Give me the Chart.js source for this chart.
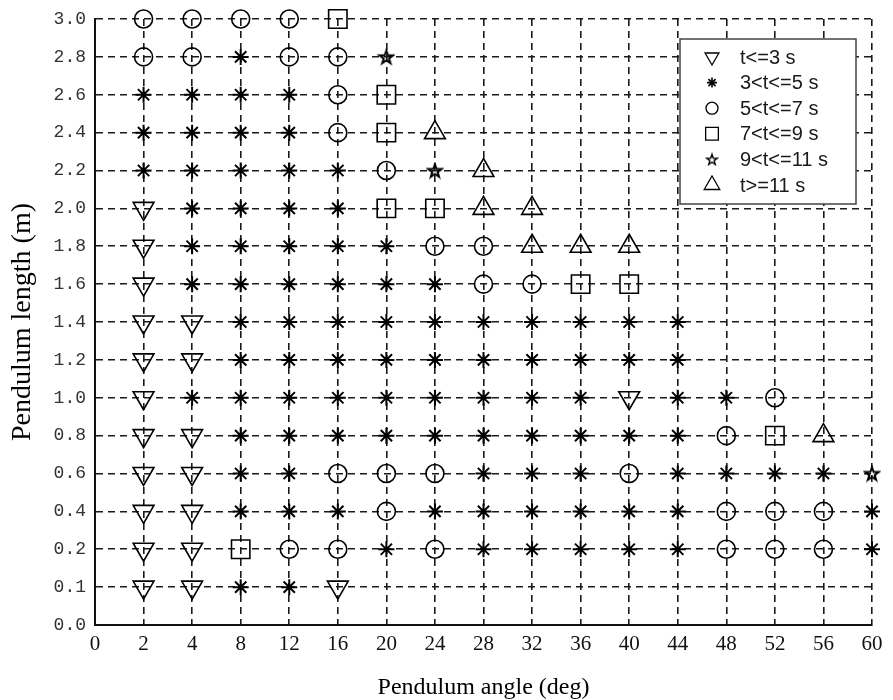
<!DOCTYPE html>
<html>
<head>
<meta charset="utf-8">
<script src="https://cdn.jsdelivr.net/npm/chart.js@4.4.1/dist/chart.umd.min.js"></script>
<style>
  html, body { margin: 0; padding: 0; background: #fff; }
  #wrap { width: 893px; height: 700px; position: relative; }
</style>
</head>
<body>
<div id="wrap"><canvas id="pendulumChart"></canvas></div>
<script>
// Axis categories (equally spaced on the plot)
const angles = ['0', '2', '4', '8', '12', '16', '20', '24', '28', '32', '36', '40', '44', '48', '52', '56', '60'];
const lengths = ['0.0', '0.1', '0.2', '0.4', '0.6', '0.8', '1.0', '1.2', '1.4', '1.6', '1.8', '2.0', '2.2', '2.4', '2.6', '2.8', '3.0'];

// Settling time classes
const classLabels = ['t<=3 s', '3<t<=5 s', '5<t<=7 s', '7<t<=9 s', '9<t<=11 s', 't>=11 s'];
const classCodes = ['v', '*', 'o', 's', 'p', '^'];

// Class of each run: one row per length (3.0 down to 0.1),
// one char per angle (2 .. 60), '.' = no run
const rowLengths = ['3.0', '2.8', '2.6', '2.4', '2.2', '2.0', '1.8', '1.6', '1.4', '1.2', '1.0', '0.8', '0.6', '0.4', '0.2', '0.1'];
const runRows = [
    'oooos...........',
    'oo*oop..........',
    '****os..........',
    '****os^.........',
    '*****op^........',
    'v****ss^^.......',
    'v*****oo^^^.....',
    'v******ooss.....',
    'vv**********....',
    'vv**********....',
    'v*********v**o..',
    'vv**********os^.',
    'vv**ooo***o****p',
    'vv***o******ooo*',
    'vvsoo*o*****ooo*',
    'vv**v...........'
];

// pentagram marker (no built-in style for it)
function makePentagram(size, lw) {
    const c = document.createElement('canvas');
    c.width = c.height = size;
    const g = c.getContext('2d');
    const cx = size / 2, cy = size / 2 + size * 0.04;
    const R = size / 2 - lw, r = R * 0.4;
    g.beginPath();
    for (let i = 0; i < 10; i++) {
        const a = -Math.PI / 2 + i * Math.PI / 5;
        const rr = i % 2 ? r : R;
        g.lineTo(cx + rr * Math.cos(a), cy + rr * Math.sin(a));
    }
    g.closePath();
    g.lineWidth = lw;
    g.strokeStyle = '#000';
    g.stroke();
    return c;
}

const markerStyles = [
    { pointStyle: 'triangle', rotation: 180, radius: 12, borderWidth: 1.6 },
    { pointStyle: 'star', rotation: 0, radius: 8, borderWidth: 2 },
    { pointStyle: 'circle', rotation: 0, radius: 9, borderWidth: 1.6 },
    { pointStyle: 'rect', rotation: 0, radius: 13, borderWidth: 1.6 },
    { pointStyle: makePentagram(18, 2), rotation: 0, radius: 8, borderWidth: 2 },
    { pointStyle: 'triangle', rotation: 0, radius: 12, borderWidth: 1.6 }
];

const legendStyles = [
    { pointStyle: 'triangle', rotation: 180, radius: 8, borderWidth: 1.3 },
    { pointStyle: 'star', rotation: 0, radius: 5, borderWidth: 1.6 },
    { pointStyle: 'circle', rotation: 0, radius: 6, borderWidth: 1.3 },
    { pointStyle: 'rect', rotation: 0, radius: 9, borderWidth: 1.3 },
    { pointStyle: makePentagram(14, 1.4), rotation: 0, radius: 6, borderWidth: 1.4 },
    { pointStyle: 'triangle', rotation: 0, radius: 9, borderWidth: 1.3 }
];

// Group the grid cells by class
const classPoints = classCodes.map(() => []);
runRows.forEach((row, r) => {
    [...row].forEach((code, c) => {
        const k = classCodes.indexOf(code);
        if (k >= 0) classPoints[k].push({ x: angles[c + 1], y: rowLengths[r] });
    });
});

// Boxed legend in the upper right corner of the plot
const boxLegend = {
    id: 'boxLegend',
    afterDatasetsDraw(chart) {
        const { ctx, chartArea } = chart;
        const w = 176, h = 165;
        const x0 = chartArea.right - 16 - w;
        const y0 = chartArea.top + 20;
        ctx.save();
        ctx.fillStyle = '#fff';
        ctx.fillRect(x0, y0, w, h);
        ctx.strokeStyle = '#444';
        ctx.lineWidth = 1.5;
        ctx.strokeRect(x0, y0, w, h);
        ctx.font = '20px "Liberation Sans", Arial, sans-serif';
        ctx.textBaseline = 'middle';
        classLabels.forEach((label, i) => {
            const y = y0 + 18 + i * 25.6;
            const st = legendStyles[i];
            ctx.strokeStyle = '#000';
            ctx.fillStyle = 'rgba(0,0,0,0)';
            ctx.lineWidth = st.borderWidth;
            Chart.helpers.drawPoint(ctx, st, x0 + 32, y);
            ctx.fillStyle = '#1a1a1a';
            ctx.fillText(label, x0 + 60, y + 1);
        });
        ctx.restore();
    }
};

const gridOpts = { color: '#1a1a1a', lineWidth: 1.6, drawTicks: false };
const borderOpts = { display: true, color: '#111', width: 2, dash: [7, 5] };

const ctx = document.getElementById('pendulumChart').getContext('2d');
new Chart(ctx, {
    type: 'scatter',
    data: {
        datasets: classLabels.map((label, i) => ({
            label,
            data: classPoints[i],
            pointStyle: markerStyles[i].pointStyle,
            rotation: markerStyles[i].rotation,
            radius: markerStyles[i].radius,
            borderWidth: markerStyles[i].borderWidth,
            borderColor: '#000',
            backgroundColor: 'rgba(0,0,0,0)'
        }))
    },
    options: {
        responsive: true,
        maintainAspectRatio: false,
        animation: false,
        layout: { padding: { left: 0, top: 19, right: 21, bottom: 0 } },
        plugins: {
            legend: { display: false },
            tooltip: { enabled: false }
        },
        scales: {
            x: {
                type: 'category',
                labels: angles,
                offset: false,
                grid: gridOpts,
                border: borderOpts,
                ticks: {
                    color: '#111',
                    font: { family: 'Liberation Serif', size: 21 },
                    padding: 7,
                    autoSkip: false,
                    maxRotation: 0
                },
                title: {
                    display: true,
                    text: 'Pendulum angle (deg)',
                    color: '#000',
                    font: { family: 'Liberation Serif', size: 24, lineHeight: 1 },
                    padding: 0
                },
                afterFit: s => { s.height = 75; s.paddingLeft = 0; s.paddingRight = 0; }
            },
            y: {
                type: 'category',
                labels: lengths,
                reverse: true,
                offset: false,
                grid: gridOpts,
                border: borderOpts,
                ticks: {
                    color: '#333',
                    font: { family: 'Liberation Mono', size: 18 },
                    padding: 9,
                    autoSkip: false
                },
                title: {
                    display: true,
                    text: 'Pendulum length (m)',
                    color: '#000',
                    font: { family: 'Liberation Serif', size: 28 },
                    padding: { top: 6, bottom: 0 }
                },
                afterFit: s => { s.width = 95; s.paddingTop = 0; s.paddingBottom = 0; }
            }
        }
    },
    plugins: [boxLegend]
});
</script>
</body>
</html>
